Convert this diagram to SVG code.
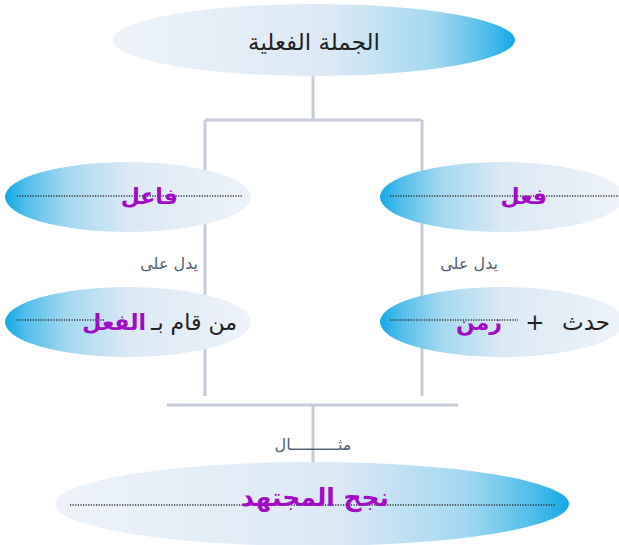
<svg xmlns="http://www.w3.org/2000/svg" width="619" height="545" viewBox="0 0 619 545">
<defs>
<linearGradient id="gR" x1="0" y1="0" x2="1" y2="0">
<stop offset="0" stop-color="#eef3f9"/>
<stop offset="0.55" stop-color="#dbe9f5"/>
<stop offset="0.8" stop-color="#a3d8f0"/>
<stop offset="0.93" stop-color="#4fbdea"/>
<stop offset="1" stop-color="#12a9e5"/>
</linearGradient>
<linearGradient id="gL" x1="0" y1="0" x2="1" y2="0">
<stop offset="0" stop-color="#12a9e5"/>
<stop offset="0.08" stop-color="#4fbdea"/>
<stop offset="0.25" stop-color="#a3d8f0"/>
<stop offset="0.5" stop-color="#dbe9f5"/>
<stop offset="1" stop-color="#eef3f9"/>
</linearGradient>
<style>
.line{stroke:#c6cbd9;stroke-width:3;fill:none}
.dot{stroke:#333;stroke-width:1.3;stroke-dasharray:1.2 1.4;fill:none}
.t{font-family:"DejaVu Sans",sans-serif;fill:#222}
.p{font-family:"DejaVu Sans",sans-serif;fill:#a20ac8;font-weight:bold}
.s{font-family:"DejaVu Sans",sans-serif;fill:#4f5f73;font-size:16px}
</style>
</defs>
<rect width="619" height="545" fill="#ffffff"/>
<g id="connectors">
<path class="line" d="M313 75 V120 M205 120 H422 M205 120 V396 M422 120 V396 M167 405 H458 M313 405 V465"/>
</g>
<g id="node-top">
<ellipse cx="314" cy="40" rx="201" ry="36" fill="url(#gR)"/>
<text class="t" x="314" y="50" font-size="23" text-anchor="middle">الجملة الفعلية</text>
</g>
<g id="node-faeil">
<ellipse cx="128" cy="197" rx="123" ry="35" fill="url(#gL)"/>
<line class="dot" x1="17" y1="196" x2="243" y2="196"/>
<text class="p" x="178" y="204" font-size="22" text-anchor="end">فاعل</text>
</g>
<g id="label-left">
<text class="s" x="198" y="269" text-anchor="end">يدل على</text>
</g>
<g id="node-left2">
<ellipse cx="128" cy="322" rx="123" ry="35" fill="url(#gL)"/>
<line class="dot" x1="17" y1="320" x2="105" y2="320"/>
<text class="t" x="237" y="330" font-size="22" text-anchor="end">من قام بـ</text>
<text class="p" x="146" y="330" font-size="22" text-anchor="end">الفعل</text>
</g>
<g id="node-fiel">
<ellipse cx="502" cy="197" rx="122" ry="35" fill="url(#gL)"/>
<line class="dot" x1="390" y1="196" x2="619" y2="196"/>
<text class="p" x="547" y="204" font-size="22" text-anchor="end">فعل</text>
</g>
<g id="label-right">
<text class="s" x="498" y="269" text-anchor="end">يدل على</text>
</g>
<g id="node-right2">
<ellipse cx="502" cy="322" rx="122" ry="35" fill="url(#gL)"/>
<line class="dot" x1="390" y1="320" x2="518" y2="320"/>
<text class="t" x="610" y="330" font-size="23" text-anchor="end">حدث</text>
<text class="t" x="535" y="330" font-size="23" text-anchor="middle">+</text>
<text class="p" x="502" y="330" font-size="22" text-anchor="end">زمن</text>
</g>
<g id="label-example">
<text class="s" x="313" y="450" text-anchor="middle">مثــــــــــال</text>
</g>
<g id="node-example">
<ellipse cx="312" cy="504" rx="257" ry="42" fill="url(#gR)"/>
<line class="dot" x1="70" y1="505" x2="555" y2="505"/>
<text class="p" x="315" y="506" font-size="25" text-anchor="middle">نجح المجتهد</text>
</g>
</svg>
